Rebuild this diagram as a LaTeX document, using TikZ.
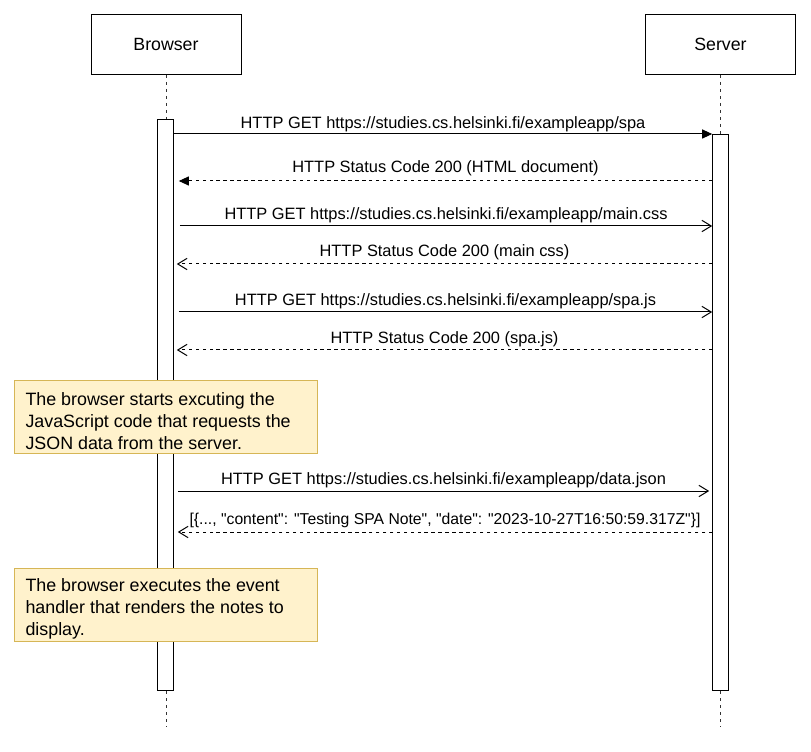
\documentclass[tikz,border=0pt]{standalone}
\usepackage{fontspec}
\setmainfont{Liberation Sans}
\newfontfamily\rawfont{Liberation Sans}
\usetikzlibrary{arrows.meta,calc}
\definecolor{notefill}{HTML}{FFF2CC}
\definecolor{notedraw}{HTML}{D6B656}
\newcommand{\dq}{{\rawfont\symbol{34}}}
\newcommand{\notetext}[1]{\raisebox{-3pt}[\height][\depth]{\parbox{210.75pt}{\raggedright #1}}}
\begin{document}
\begin{tikzpicture}[x=0.75pt,y=-0.75pt,
  actor/.style={draw=black,line width=0.75pt,fill=white,minimum width=112.5pt,minimum height=45pt,inner sep=0pt,font=\fontsize{13.3}{16}\selectfont},
  actbar/.style={draw=black,line width=0.75pt,fill=white,minimum width=11.7pt,inner sep=0pt,anchor=north},
  life/.style={draw=black!80,line width=0.75pt,dash pattern=on 2.25pt off 3pt},
  msg/.style={draw=black,line width=0.75pt,-{Straight Barb[length=7pt,width=8.5pt,line width=0.75pt]}},
  msgblock/.style={draw=black,line width=0.75pt,-{Triangle[length=7.5pt,width=6.75pt]}},
  reply/.style={msg,dash pattern=on 2.6pt off 2.6pt},
  replyblock/.style={msgblock,dash pattern=on 2.6pt off 2.6pt},
  lbl/.style={font=\fontsize{12.3}{14}\selectfont,inner sep=0pt,anchor=base},
  note/.style={draw=notedraw,fill=notefill,line width=0.75pt,anchor=north west,minimum width=227.25pt,inner xsep=8.25pt,inner ysep=0pt,font=\fontsize{13.4}{16.5}\selectfont}
]
\useasboundingbox (0,0) rectangle (811,752);

\node[actor] (browser) at (166,44.5) {Browser};
\node[actor] (server) at (720.5,44.5) {Server};

\node[actbar,minimum height=428.25pt] (bact) at (165.5,119) {};
\node[actbar,minimum height=417pt] (sact) at (720.5,134) {};

\coordinate (bend) at (166,727);
\coordinate (send) at (720.5,727);
\draw[life] (browser.south) -- (browser.south |- bact.north);
\draw[life] (bact.south -| browser.south) -- (bend);
\draw[life] (server.south) -- (sact.north);
\draw[life] (sact.south) -- (send);

% messages
\draw[msgblock] (bact.east |- 0,134) -- node[lbl,yshift=4pt] {HTTP GET https://studies.cs.helsinki.fi/exampleapp/spa} (sact.west |- 0,134);
\draw[replyblock] (sact.west |- 0,181) -- node[lbl,yshift=6.25pt] {HTTP Status Code 200 (HTML document)} ($(bact.east |- 0,181)+(5,0)$);
\draw[msg] ($(bact.east |- 0,226)+(6,0)$) -- node[lbl,yshift=5pt] {HTTP GET https://studies.cs.helsinki.fi/exampleapp/main.css} (sact.west |- 0,226);
\draw[reply] (sact.west |- 0,264) -- node[lbl,yshift=5.75pt] {HTTP Status Code 200 (main css)} ($(bact.east |- 0,264)+(3,0)$);
\draw[msg] ($(bact.east |- 0,312)+(5,0)$) -- node[lbl,yshift=5pt] {HTTP GET https://studies.cs.helsinki.fi/exampleapp/spa.js} (sact.west |- 0,312);
\draw[reply] (sact.west |- 0,350) -- node[lbl,yshift=4.75pt] {HTTP Status Code 200 (spa.js)} ($(bact.east |- 0,350)+(3,0)$);

\node[note,minimum height=54.75pt] (note1) at (14,380) {\notetext{The browser starts excuting the\\JavaScript code that requests the\\JSON data from the server.}};

\draw[msg] ($(bact.east |- 0,491)+(4,0)$) -- node[lbl,yshift=4.75pt] {HTTP GET https://studies.cs.helsinki.fi/exampleapp/data.json} ($(sact.west |- 0,491)+(-3,0)$);
\draw[reply] (sact.west |- 0,532) -- node[lbl,yshift=5.5pt,font=\fontsize{11.8}{14}\selectfont] {[\{..., \dq content\dq: \dq Testing SPA Note\dq, \dq date\dq: \dq 2023-10-27T16:50:59.317Z\dq\}]} ($(bact.east |- 0,532)+(4,0)$);

\node[note,minimum height=54.5pt] (note2) at (14,568) {\notetext{The browser executes the event\\handler that renders the notes to\\display.}};
\end{tikzpicture}
\end{document}
